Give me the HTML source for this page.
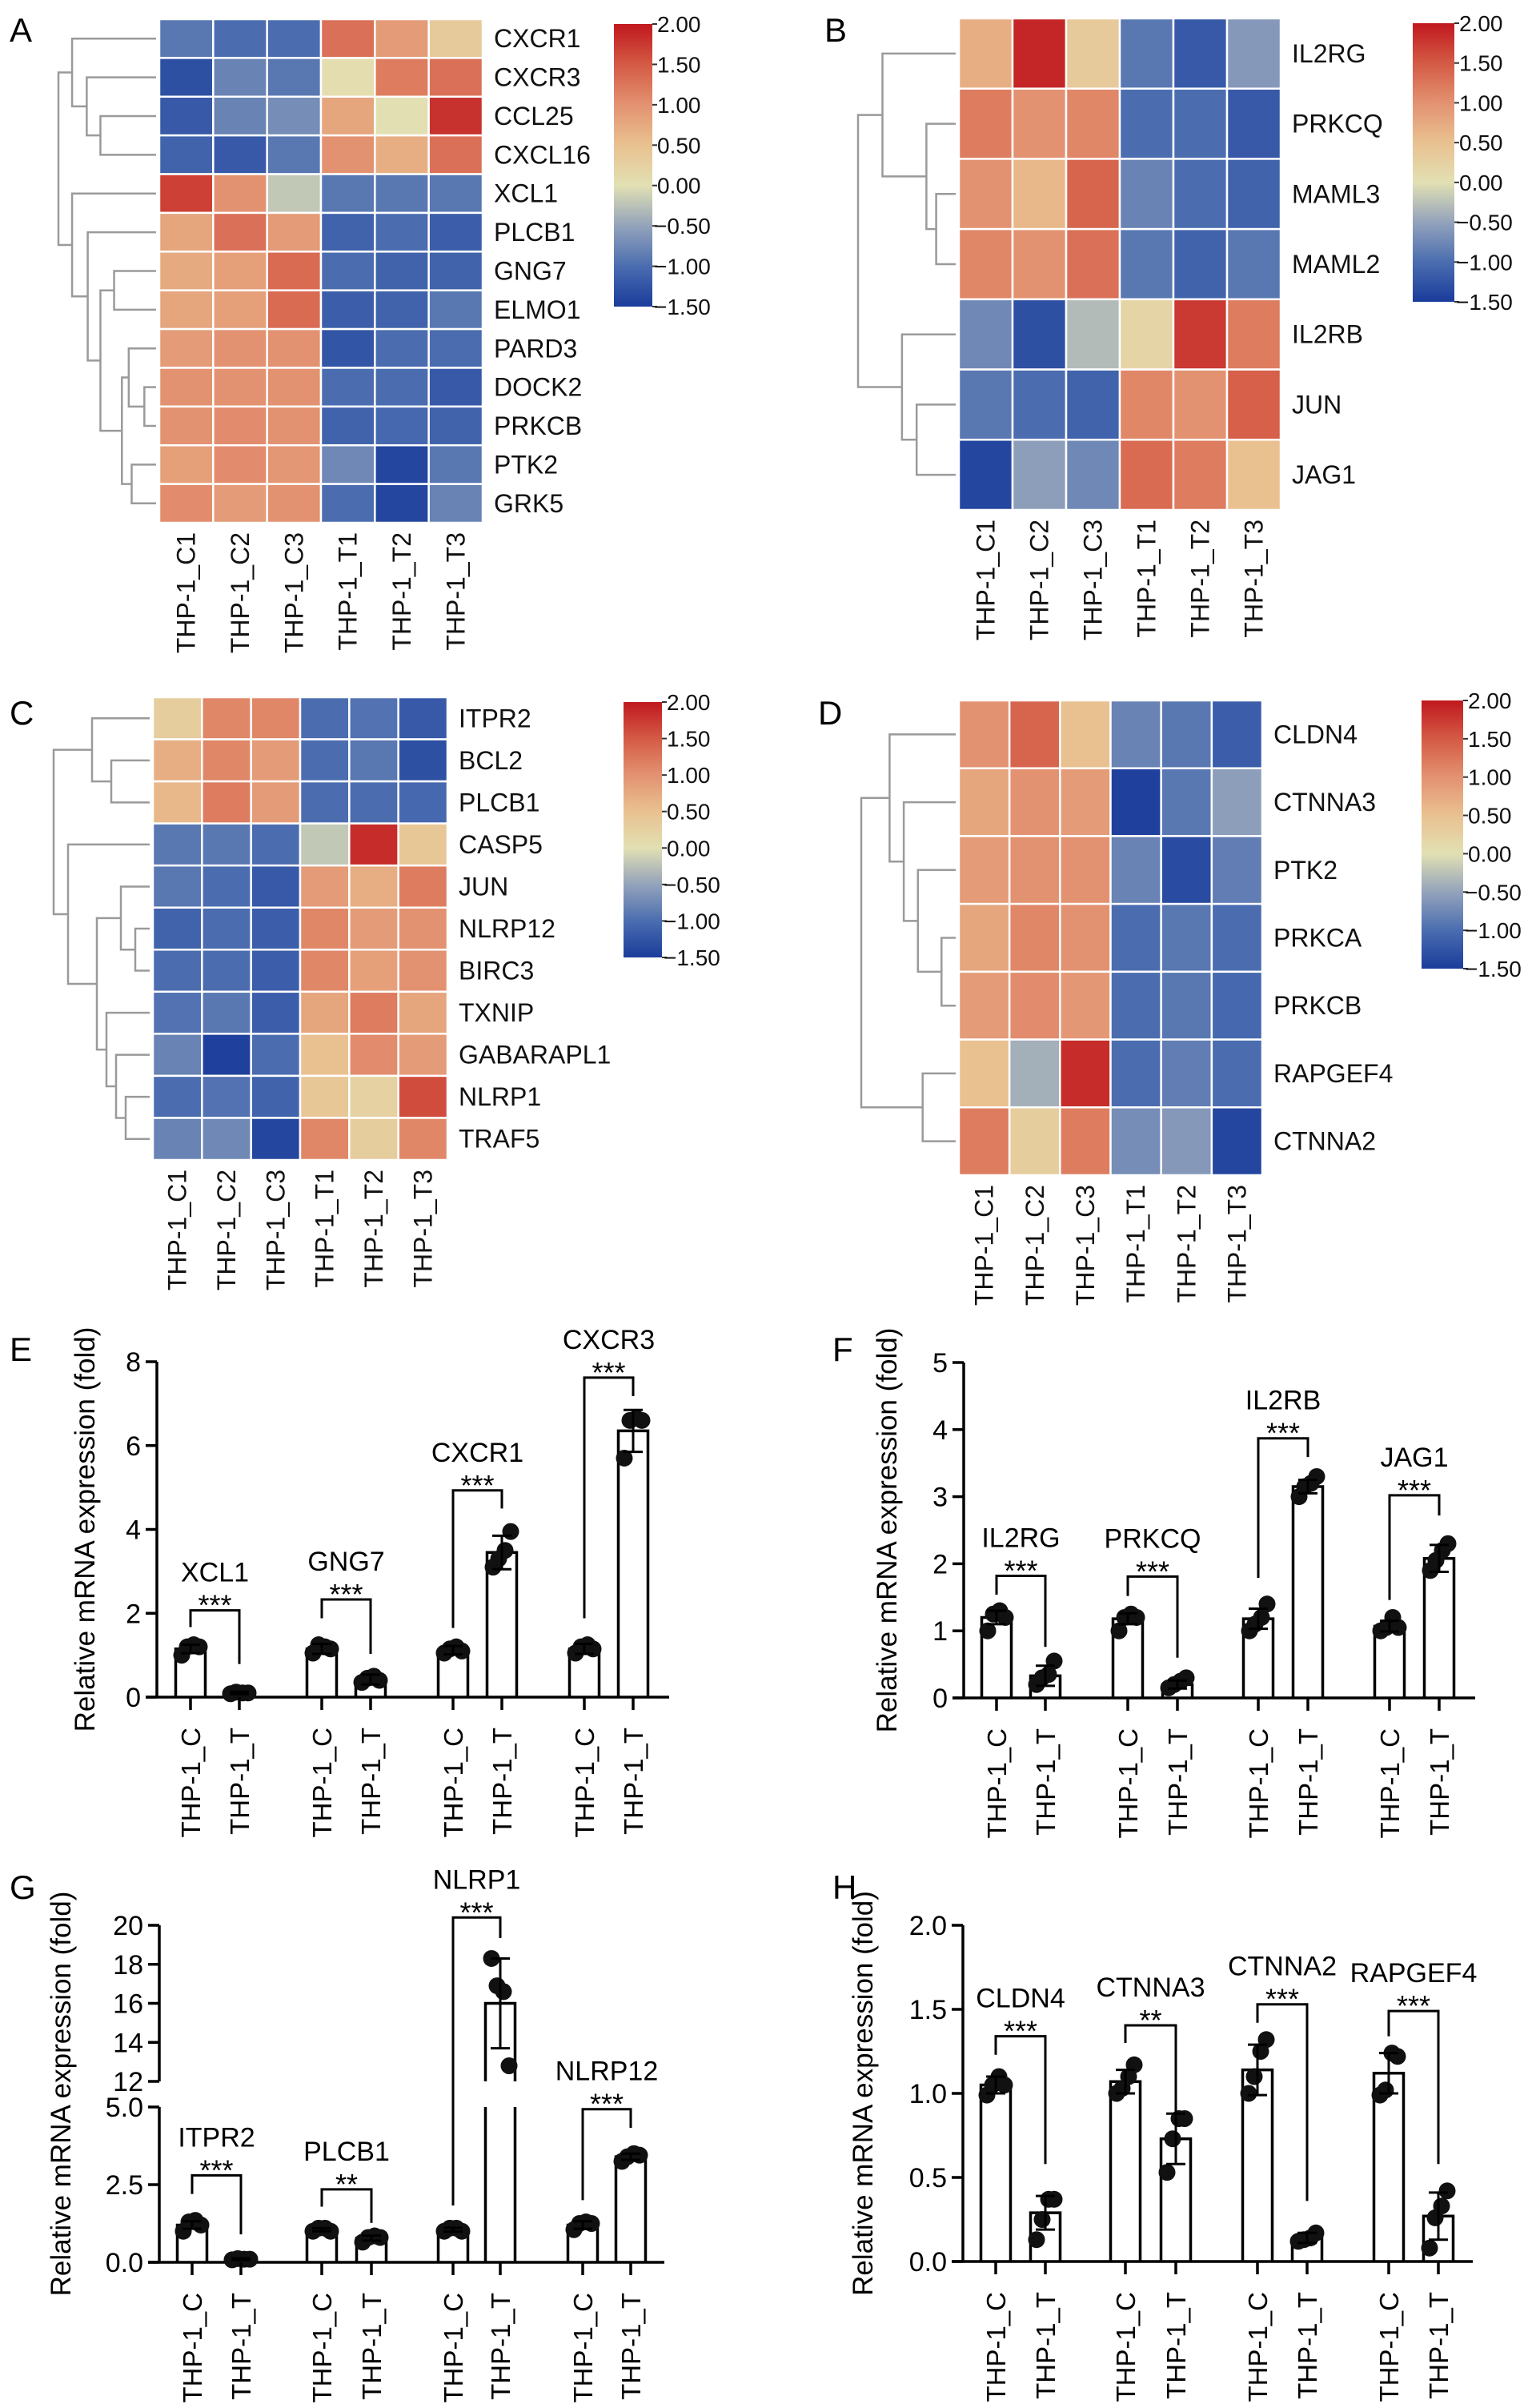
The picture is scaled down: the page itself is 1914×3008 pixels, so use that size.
<!DOCTYPE html>
<html><head><meta charset="utf-8">
<style>
html,body{margin:0;padding:0;background:#fff;}
svg{display:block;font-family:"Liberation Sans",Arial,sans-serif;}
</style></head>
<body>
<svg id="fig" xmlns="http://www.w3.org/2000/svg" width="1914" height="3008" viewBox="0 0 1914 3008">
<rect width="1914" height="3008" fill="#fff"/>
<text x="12" y="52" font-size="42">A</text>
<text x="1030" y="52" font-size="42">B</text>
<text x="12" y="905" font-size="42">C</text>
<text x="1022" y="905" font-size="42">D</text>
<text x="12" y="1700" font-size="42">E</text>
<text x="1040" y="1700" font-size="42">F</text>
<text x="12" y="2372" font-size="42">G</text>
<text x="1040" y="2372" font-size="42">H</text>
</svg>
<script>
// ---------- Heatmap data ----------
const samples = ["THP-1_C1","THP-1_C2","THP-1_C3","THP-1_T1","THP-1_T2","THP-1_T3"];
const cbTicks = ["2.00","1.50","1.00","0.50","0.00","\u22120.50","\u22121.00","\u22121.50"];
const genesA = ["CXCR1","CXCR3","CCL25","CXCL16","XCL1","PLCB1","GNG7","ELMO1","PARD3","DOCK2","PRKCB","PTK2","GRK5"];
const heatA = [
 [-0.9,-1.0,-1.0,1.3,0.9,0.35],
 [-1.3,-0.8,-0.9,0.05,1.2,1.3],
 [-1.2,-0.8,-0.7,0.8,0.0,1.8],
 [-1.1,-1.2,-0.9,1.0,0.7,1.3],
 [1.7,1.0,-0.2,-0.9,-0.9,-0.9],
 [0.8,1.3,0.9,-1.1,-1.0,-1.15],
 [0.75,0.85,1.35,-1.0,-1.1,-1.1],
 [0.8,0.85,1.35,-1.15,-1.1,-0.9],
 [0.9,1.0,1.0,-1.25,-1.0,-1.0],
 [1.0,1.0,1.0,-1.0,-1.0,-1.2],
 [1.0,1.05,1.0,-1.1,-1.05,-1.1],
 [0.85,1.05,0.95,-0.75,-1.4,-0.9],
 [1.05,0.9,1.0,-1.0,-1.4,-0.8]];
const treeA = [1,[0.86,0,[0.71,1,[0.57,2,3]]],[0.86,4,[0.7,5,[0.57,[0.43,6,7],[0.35,[0.28,8,[0.12,9,10]],[0.25,11,12]]]]]];
const genesB = ["IL2RG","PRKCQ","MAML3","MAML2","IL2RB","JUN","JAG1"];
const heatB = [
 [0.7,1.9,0.35,-0.9,-1.2,-0.6],
 [1.2,1.0,1.1,-1.0,-1.0,-1.2],
 [1.0,0.6,1.4,-0.8,-1.0,-1.1],
 [1.1,1.0,1.3,-0.9,-1.1,-0.9],
 [-0.75,-1.3,-0.3,0.2,1.75,1.2],
 [-0.9,-1.0,-1.1,1.1,1.0,1.45],
 [-1.4,-0.55,-0.75,1.35,1.2,0.5]];
const treeB = [1,[0.75,0,[0.3,1,[0.2,2,3]]],[0.55,4,[0.4,5,6]]];
const genesC = ["ITPR2","BCL2","PLCB1","CASP5","JUN","NLRP12","BIRC3","TXNIP","GABARAPL1","NLRP1","TRAF5"];
const heatC = [
 [0.3,1.1,1.1,-1.0,-0.95,-1.2],
 [0.7,1.1,0.9,-1.0,-0.9,-1.3],
 [0.6,1.2,0.9,-1.0,-1.0,-1.05],
 [-0.9,-0.9,-1.0,-0.2,1.85,0.4],
 [-0.9,-1.0,-1.2,0.9,0.7,1.2],
 [-1.1,-1.0,-1.15,1.1,0.9,1.0],
 [-1.0,-1.0,-1.15,1.1,0.85,1.0],
 [-0.95,-0.9,-1.15,0.8,1.2,0.8],
 [-0.8,-1.45,-1.0,0.5,1.05,0.9],
 [-1.0,-0.95,-1.1,0.4,0.25,1.6],
 [-0.8,-0.75,-1.4,1.1,0.3,1.1]];
const treeC = [1,[0.6,0,[0.4,1,2]],[0.85,3,[0.55,[0.3,4,[0.15,5,6]],[0.45,7,[0.35,8,[0.25,9,10]]]]]];
const genesD = ["CLDN4","CTNNA3","PTK2","PRKCA","PRKCB","RAPGEF4","CTNNA2"];
const heatD = [
 [1.0,1.4,0.5,-0.8,-0.9,-1.15],
 [0.8,1.0,0.9,-1.45,-0.9,-0.55],
 [0.9,1.0,1.0,-0.8,-1.35,-0.85],
 [0.8,1.1,1.0,-1.0,-0.9,-1.0],
 [0.9,1.05,0.95,-1.0,-0.9,-1.05],
 [0.5,-0.4,1.85,-1.0,-0.85,-1.0],
 [1.2,0.3,1.2,-0.7,-0.6,-1.4]];
const treeD = [1,[0.7,0,[0.55,1,[0.4,2,[0.15,3,4]]]],[0.35,5,6]];

// ---------- Bar chart data ----------
const groupLabels = ["THP-1_C","THP-1_T"];
const eGenes=["XCL1","GNG7","CXCR1","CXCR3"], eTicks=[0,2,4,6,8];
const eCtrl=[1.15,1.15,1.12,1.15], eTreat=[0.1,0.42,3.45,6.35];
const eCtrlSD=[0.1,0.12,0.1,0.12], eTreatSD=[0.03,0.12,0.4,0.5];
const eCtrlPts=[[1.0,1.2,1.25,1.2],[1.05,1.25,1.2,1.15],[1.05,1.15,1.2,1.1],[1.05,1.2,1.25,1.15]];
const eTreatPts=[[0.08,0.12,0.1,0.1],[0.35,0.45,0.5,0.4],[3.1,3.3,3.5,3.95],[5.7,6.6,6.65,6.6]];
const eBr=[2.07,2.33,4.93,7.62], eLegL=[1.67,1.88,1.65,1.88], eLegR=[0.79,1.03,4.5,7.18], eStars=["***","***","***","***"];

const fGenes=["IL2RG","PRKCQ","IL2RB","JAG1"], fTicks=[0,1,2,3,4,5];
const fCtrl=[1.2,1.18,1.18,1.07], fTreat=[0.33,0.2,3.15,2.08];
const fCtrlSD=[0.1,0.08,0.15,0.08], fTreatSD=[0.15,0.06,0.1,0.2];
const fCtrlPts=[[1.0,1.25,1.3,1.2],[1.0,1.2,1.25,1.2],[1.0,1.1,1.2,1.4],[1.0,1.05,1.2,1.05]];
const fTreatPts=[[0.2,0.3,0.35,0.55],[0.15,0.2,0.25,0.3],[3.0,3.15,3.2,3.3],[1.9,2.05,2.2,2.3]];
const fBr=[1.82,1.81,3.87,3.02], fLegL=[1.54,1.52,1.79,1.46], fLegR=[0.76,0.6,3.59,2.72], fStars=["***","***","***","***"];

const gGenes=["ITPR2","PLCB1","NLRP1","NLRP12"], gTicksLow=[0.0,2.5,5.0], gTicksHigh=[12,14,16,18,20];
const gCtrl=[1.2,1.05,1.05,1.2], gTreat=[0.1,0.78,16.0,3.4];
const gCtrlSD=[0.12,0.05,0.06,0.12], gTreatSD=[0.03,0.08,2.3,0.1];
const gCtrlPts=[[1.0,1.3,1.35,1.2],[1.0,1.1,1.1,1.0],[1.0,1.1,1.1,1.0],[1.05,1.25,1.3,1.25]];
const gTreatPts=[[0.08,0.12,0.1,0.1],[0.65,0.8,0.85,0.8],[18.3,16.9,16.6,12.8],[3.25,3.4,3.5,3.45]];
const gBr=[2.8,2.35,20.4,4.93], gLegL=[2.2,1.79,1.83,2.0], gLegR=[0.9,1.27,19.35,4.33], gStars=["***","**","***","***"];

const hGenes=["CLDN4","CTNNA3","CTNNA2","RAPGEF4"], hTicks=[0.0,0.5,1.0,1.5,2.0];
const hCtrl=[1.05,1.07,1.14,1.12], hTreat=[0.29,0.73,0.14,0.27];
const hCtrlSD=[0.05,0.07,0.15,0.12], hTreatSD=[0.1,0.15,0.03,0.14];
const hCtrlPts=[[0.99,1.05,1.1,1.05],[1.0,1.03,1.1,1.17],[1.0,1.1,1.25,1.32],[0.99,1.02,1.24,1.22]];
const hTreatPts=[[0.13,0.25,0.37,0.37],[0.53,0.73,0.85,0.85],[0.12,0.13,0.14,0.17],[0.08,0.26,0.33,0.42]];
const hBr=[1.34,1.405,1.53,1.49], hLegL=[1.23,1.30,1.42,1.34], hLegR=[0.58,0.78,0.36,0.58], hStars=["***","**","***","***"];

// ---------- drawing ----------
const svg=document.getElementById('fig');
const NS="http://www.w3.org/2000/svg";
function mk(tag,attrs,parent){const e=document.createElementNS(NS,tag);for(const k in attrs)e.setAttribute(k,attrs[k]);(parent||svg).appendChild(e);return e;}
const stops=[[-1.5,[26,60,155]],[-1.0,[75,109,176]],[-0.5,[147,163,187]],[0,[226,224,179]],[0.5,[233,193,144]],[1.0,[227,146,113]],[1.5,[212,90,69]],[2.0,[192,24,30]]];
function color(v){v=Math.max(-1.5,Math.min(2,v));for(let i=0;i<stops.length-1;i++){const a=stops[i],b=stops[i+1];if(v<=b[0]){const t=(v-a[0])/(b[0]-a[0]);const c=a[1].map((x,j)=>Math.round(x+(b[1][j]-x)*t));return `rgb(${c[0]},${c[1]},${c[2]})`;}}return 'rgb(192,24,30)';}

function heatmap(id,genes,data,tree,g){
  const grp=mk('g',{});
  
  
  const nr=genes.length, nc=samples.length;
  const cw=(g.x1-g.x0)/nc, rh=(g.y1-g.y0)/nr;
  data.forEach((row,r)=>row.forEach((v,c)=>{
    const rc=mk('rect',{x:g.x0+c*cw,y:g.y0+r*rh,width:cw,height:rh,fill:color(v),stroke:'#fff','stroke-width':2.5},grp);
    
    
  }));
  genes.forEach((n,r)=>{
    const t=mk('text',{x:g.x1+14,y:g.y0+(r+0.5)*rh+11,'font-size':32,fill:'#111'},grp);t.textContent=n;
    
    
  });
  samples.forEach((s,c)=>{
    const cx=g.x0+(c+0.5)*cw+11, y=g.y1+12;
    const t=mk('text',{x:cx,y:y,'font-size':32,'text-anchor':'end',transform:`rotate(-90 ${cx} ${y})`,fill:'#111'},grp);t.textContent=s;
    
    
  });
  const dg=mk('g',{stroke:'#9a9a9a','stroke-width':2.5,fill:'none'},grp);
  
  
  const dx=h=>g.x0-4-h*(g.x0-4-g.dx0);
  function walk(n){
    if(typeof n==='number') return {y:g.y0+(n+0.5)*rh,x:g.x0-4};
    const a=walk(n[1]),b=walk(n[2]),x=dx(n[0]);
    mk('path',{d:`M${a.x},${a.y}H${x}V${b.y}H${b.x}`},dg);
    return {x:x,y:(a.y+b.y)/2};
  }
  walk(tree);
  const gid='grad-'+id;
  const defs=mk('defs',{},grp);
  const lg=mk('linearGradient',{id:gid,x1:0,y1:1,x2:0,y2:0},defs);
  for(let i=0;i<=35;i++){const v=-1.5+3.5*i/35;mk('stop',{offset:(i/35),'stop-color':color(v)},lg);}
  const cb=mk('rect',{x:g.cx,y:g.cy0,width:g.cw,height:g.cy1-g.cy0,fill:`url(#${gid})`},grp);
  
  
  cbTicks.forEach((lab,i)=>{
    const y=g.cy0+i*(g.cy1-g.cy0)/(cbTicks.length-1);
    mk('line',{x1:g.cx+g.cw,x2:g.cx+g.cw+6,y1:y,y2:y,stroke:'#333','stroke-width':2},grp);
    const t=mk('text',{x:g.cx+g.cw+(lab[0]=='\u2212'?2:6),y:y+10,'font-size':28,fill:'#111'},grp);t.textContent=lab;
    
    
  });
}
heatmap('a',genesA,heatA,treeA,{x0:199,x1:603,y0:24,y1:653,dx0:73,cx:767,cw:48,cy0:30,cy1:383});
heatmap('b',genesB,heatB,treeB,{x0:1198,x1:1600,y0:23,y1:637,dx0:1072,cx:1765,cw:52,cy0:29,cy1:377});
heatmap('c',genesC,heatC,treeC,{x0:191,x1:559,y0:871,y1:1449,dx0:67,cx:779,cw:48,cy0:877,cy1:1196});
heatmap('d',genesD,heatD,treeD,{x0:1198,x1:1577,y0:875,y1:1468,dx0:1076,cx:1776,cw:52,cy0:875,cy1:1210});

function barChart(id,cfg){
  const grp=mk('g',{});
  
  
  const Y=cfg.y, bw=37, y0=Y(0);
  const blk={stroke:'#000','stroke-width':3.5,fill:'none'};
  cfg.axisSegs.forEach(s=>{const l=mk('line',Object.assign({x1:cfg.ax,x2:cfg.ax,y1:s[0],y2:s[1]},blk),grp);
    
    });
  const xa=mk('line',Object.assign({x1:cfg.ax-14,x2:cfg.xend,y1:y0,y2:y0},blk),grp);
  
  
  cfg.ticks.forEach(v=>{
    const y=Y(v);
    mk('line',Object.assign({x1:cfg.ax-14,x2:cfg.ax,y1:y,y2:y},blk),grp);
    const t=mk('text',{x:cfg.ax-20,y:y+12,'font-size':34,'text-anchor':'end'},grp);
    t.textContent=cfg.fmt(v);
    
    
  });
  const ym=(cfg.axisSegs[0][0]+cfg.axisSegs[cfg.axisSegs.length-1][1])/2;
  const yt=mk('text',{x:cfg.lx,y:ym,'font-size':35,'text-anchor':'middle',transform:`rotate(-90 ${cfg.lx} ${ym})`},grp);
  yt.textContent='Relative mRNA expression (fold)';
  
  
  cfg.genes.forEach((gn,i)=>{
    [[cfg.cx[i],cfg.ctrl[i],cfg.csd[i],cfg.cpts[i],0],[cfg.tx[i],cfg.treat[i],cfg.tsd[i],cfg.tpts[i],1]].forEach(b=>{
      const [x,m,sd,pts,k]=b;
      const bg=mk('g',{},grp);
      
      
      const top=Y(m);
      if(cfg.brk && m>cfg.brk[1]){
        mk('path',Object.assign({d:`M${x-bw/2},${y0}V${Y(cfg.brk[0])}M${x+bw/2},${y0}V${Y(cfg.brk[0])}M${x-bw/2},${Y(cfg.brk[1])}V${top}H${x+bw/2}V${Y(cfg.brk[1])}`},blk),bg);
      } else {
        mk('path',Object.assign({d:`M${x-bw/2},${y0}V${top}H${x+bw/2}V${y0}`},blk),bg);
      }
      pts.forEach((p,j)=>{const c=mk('circle',{cx:x+[-11,-4,4,11][j],cy:Y(p),r:10.5,fill:'#111'},bg);
        
        });
      const lo=Y(m-sd),hi=Y(m+sd);
      mk('path',Object.assign({d:`M${x},${lo}V${hi}M${x-12},${hi}H${x+12}M${x-12},${lo}H${x+12}`},blk,{'stroke-width':3}),bg);
      mk('line',Object.assign({x1:x,x2:x,y1:y0,y2:y0+16},blk),grp);
      const ly=y0+38, lx=x+12;
      const t=mk('text',{x:lx,y:ly,'font-size':33,'text-anchor':'end',transform:`rotate(-90 ${lx} ${ly})`},grp);
      t.textContent=groupLabels[k];
      
      
    });
    const by=Y(cfg.br[i]);
    const br=mk('path',Object.assign({d:`M${cfg.cx[i]},${Y(cfg.legL[i])}V${by}H${cfg.tx[i]}V${Y(cfg.legR[i])}`},blk,{'stroke-width':3}),grp);
    
    
    const mx=(cfg.cx[i]+cfg.tx[i])/2;
    const st=mk('text',{x:mx,y:by+6,'font-size':36,'text-anchor':'middle'},grp);st.textContent=cfg.stars[i];
    
    
    const gl=mk('text',{x:mx,y:by-36,'font-size':34,'text-anchor':'middle'},grp);gl.textContent=gn;
    
    
  });
}
const lin=(y0,y1,vmax)=>v=>y0-v*(y0-y1)/vmax;
barChart('e',{y:lin(2120,1701,8),ax:196,xend:836,lx:118,axisSegs:[[2120,1701]],ticks:eTicks,fmt:v=>String(v),
  cx:[238,402,566,730],tx:[299,463,627,791],genes:eGenes,ctrl:eCtrl,treat:eTreat,csd:eCtrlSD,tsd:eTreatSD,cpts:eCtrlPts,tpts:eTreatPts,br:eBr,legL:eLegL,legR:eLegR,stars:eStars});
barChart('f',{y:lin(2121,1702,5),ax:1204,xend:1843,lx:1120,axisSegs:[[2121,1702]],ticks:fTicks,fmt:v=>String(v),
  cx:[1245,1409,1572,1736],tx:[1306,1471,1634,1798],genes:fGenes,ctrl:fCtrl,treat:fTreat,csd:fCtrlSD,tsd:fTreatSD,cpts:fCtrlPts,tpts:fTreatPts,br:fBr,legL:fLegL,legR:fLegR,stars:fStars});
const gY=v=>v<=5?2826-v*(2826-2632)/5:(v>=12?2600-(v-12)*(2600-2405)/8:2616);
barChart('g',{y:gY,ax:199,xend:830,lx:88,axisSegs:[[2826,2632],[2600,2405]],ticks:gTicksLow.concat(gTicksHigh),fmt:v=>v<=5?v.toFixed(1):String(v),brk:[5,12],
  cx:[240,402,566,728],tx:[301,464,625,788],genes:gGenes,ctrl:gCtrl,treat:gTreat,csd:gCtrlSD,tsd:gTreatSD,cpts:gCtrlPts,tpts:gTreatPts,br:gBr,legL:gLegL,legR:gLegR,stars:gStars});
barChart('h',{y:lin(2825,2405,2),ax:1203,xend:1840,lx:1090,axisSegs:[[2825,2405]],ticks:hTicks,fmt:v=>v.toFixed(1),
  cx:[1244,1406,1571,1735],tx:[1306,1469,1633,1797],genes:hGenes,ctrl:hCtrl,treat:hTreat,csd:hCtrlSD,tsd:hTreatSD,cpts:hCtrlPts,tpts:hTreatPts,br:hBr,legL:hLegL,legR:hLegR,stars:hStars});
</script>
</body></html>
